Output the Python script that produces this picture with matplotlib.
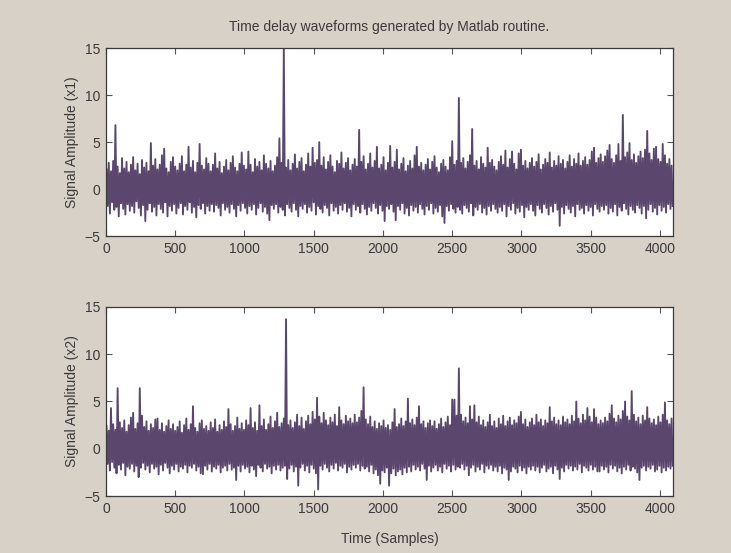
import numpy as np
import matplotlib
matplotlib.use("Agg")
import matplotlib.pyplot as plt

plt.rcParams['font.family'] = ['Liberation Sans', 'DejaVu Sans']

# Each series: per 16-sample bin, the local peak (hi) and trough (lo)
n_samples = 4096
bin_size = 16

x1_hi = [
    2.1, 2.8, 1.9, 3.0, 6.8, 2.4, 1.7, 3.3, 2.2, 2.9, 1.8, 2.6, 3.4, 2.0, 2.7, 1.6,
    3.1, 2.3, 2.8, 1.9, 4.9, 2.5, 3.2, 2.1, 2.6, 3.6, 4.3, 2.2, 1.8, 2.9, 3.4, 2.4,
    2.0, 2.7, 3.5, 1.9, 2.6, 4.5, 2.3, 3.0, 1.8, 2.8, 4.8, 2.5, 2.1, 3.3, 2.7, 1.9,
    2.6, 3.8, 2.2, 2.9, 1.7, 2.4, 3.1, 2.0, 2.8, 3.5, 2.3, 1.9, 2.7, 3.9, 2.5, 2.1,
    4.0, 2.6, 1.8, 3.2, 2.4, 2.9, 2.0, 3.6, 2.7, 2.2, 3.0, 1.9, 2.5, 3.4, 5.4, 2.8,
    15.0, 2.3, 3.1, 2.0, 2.7, 3.7, 2.2, 2.9, 3.3, 1.9, 2.6, 3.8, 2.4, 4.4, 2.8, 3.1,
    5.0, 2.5, 3.4, 2.1, 2.9, 3.6, 2.4, 1.8, 3.0, 2.7, 3.9, 2.2, 2.8, 3.3, 2.0, 2.6,
    3.2, 2.4, 6.3, 2.9, 3.5, 2.1, 2.7, 3.8, 2.3, 3.0, 4.5, 2.2, 2.6, 3.4, 2.0, 2.8,
    4.6, 2.3, 2.9, 4.2, 2.1, 2.7, 3.3, 1.9, 2.5, 3.0, 2.2, 3.6, 4.5, 2.4, 2.8, 2.0,
    2.6, 3.2, 2.1, 2.9, 3.5, 2.3, 1.8, 2.7, 3.1, 2.4, 2.0, 3.4, 5.1, 2.6, 3.0, 9.7,
    2.8, 3.3, 2.2, 2.9, 3.6, 6.4, 2.5, 3.0, 2.1, 3.4, 2.7, 2.3, 4.4, 2.8, 3.1, 2.4,
    2.0, 2.9, 3.5, 2.6, 4.1, 2.3, 3.2, 4.0, 2.7, 2.1, 3.8, 4.2, 2.5, 3.0, 2.2, 2.8,
    3.3, 2.4, 2.9, 3.7, 2.1, 2.6, 3.2, 2.8, 3.9, 2.3, 3.0, 2.5, 3.5, 2.7, 3.1, 2.2,
    2.9, 3.6, 2.4, 3.2, 2.7, 3.8, 2.5, 3.0, 3.4, 2.6, 3.1, 4.0, 4.4, 2.8, 3.3, 3.7,
    2.9, 3.5, 4.1, 4.7, 3.2, 2.8, 3.6, 4.8, 3.0, 7.9, 3.4, 3.9, 4.9, 3.1, 3.7, 2.8,
    3.5, 4.0, 3.3, 4.2, 6.2, 3.8, 3.1, 4.3, 4.5, 3.2, 2.9, 4.8, 3.6, 2.7, 3.2, 2.5,
]
x1_lo = [
    -1.8, -2.6, -1.4, -2.2, -1.9, -2.9, -1.5, -2.1, -2.7, -1.6, -2.3, -1.8, -2.5, -1.3, -2.0, -2.8,
    -1.7, -3.4, -2.2, -1.5, -2.4, -1.9, -2.8, -1.6, -2.1, -2.5, -1.4, -2.9, -1.8, -2.3, -1.6, -2.6,
    -2.0, -1.5, -2.7, -1.8, -2.2, -1.4, -2.5, -1.9, -3.0, -1.7, -2.1, -1.5, -2.6, -1.8, -2.3, -1.6,
    -2.4, -1.7, -2.0, -2.8, -1.5, -2.2, -1.9, -2.5, -1.6, -2.1, -2.9, -1.7, -2.3, -1.5, -2.0, -2.6,
    -1.8, -2.2, -1.6, -2.7, -2.0, -1.5, -2.4, -1.9, -2.6, -3.3, -1.7, -2.1, -1.6, -2.5, -1.9, -2.2,
    -2.8, -1.6, -2.0, -2.4, -1.5, -2.2, -2.9, -1.8, -2.1, -1.6, -2.5, -1.9, -2.3, -1.4, -2.7, -1.8,
    -2.1, -2.5, -1.7, -2.0, -2.8, -1.5, -2.3, -1.9, -2.6, -1.7, -2.2, -1.5, -2.4, -2.0, -2.9, -1.6,
    -2.2, -1.8, -2.5, -1.6, -2.1, -2.7, -1.9, -2.3, -1.5, -2.0, -2.6, -1.7, -2.3, -3.4, -1.8, -2.1,
    -1.6, -2.4, -3.3, -1.8, -2.2, -1.5, -2.6, -2.0, -2.8, -1.7, -2.3, -1.9, -2.5, -1.6, -2.1, -2.7,
    -1.8, -2.2, -1.5, -2.6, -2.0, -2.4, -1.7, -2.9, -3.6, -1.8, -2.3, -1.6, -2.1, -2.5, -1.9, -2.2,
    -2.6, -1.7, -2.0, -2.4, -1.5, -2.8, -1.9, -2.2, -1.6, -2.5, -2.0, -2.7, -1.8, -2.3, -1.6, -2.1,
    -2.5, -1.9, -2.3, -1.6, -2.9, -1.8, -2.2, -1.5, -2.6, -2.0, -2.4, -1.7, -3.0, -1.9, -2.2, -1.6,
    -2.3, -2.8, -1.7, -2.1, -2.5, -1.6, -2.0, -2.7, -1.8, -2.4, -1.5, -2.2, -3.9, -1.9, -2.6, -1.7,
    -2.1, -2.5, -1.8, -2.9, -1.6, -2.2, -2.0, -2.6, -1.7, -2.3, -1.9, -2.8, -1.6, -2.1, -2.4, -1.8,
    -2.2, -1.7, -2.6, -2.0, -2.4, -1.6, -2.8, -1.9, -2.3, -1.5, -2.1, -2.7, -1.8, -2.2, -2.5, -1.7,
    -2.0, -2.6, -1.8, -3.1, -2.2, -1.6, -2.4, -2.0, -2.7, -1.7, -2.3, -1.9, -2.5, -1.6, -2.1, -1.8,
]
x2_hi = [
    2.4, 1.9, 4.3, 2.6, 2.0, 6.4, 2.8, 2.2, 3.0, 1.8, 2.5, 3.3, 3.8, 2.1, 2.7, 6.4,
    3.5, 2.3, 2.9, 1.9, 2.6, 2.2, 3.1, 3.2, 2.0, 2.7, 1.8, 2.4, 3.0, 2.1, 2.6, 1.9,
    2.3, 2.9, 1.7, 2.5, 3.2, 2.0, 2.6, 4.5, 2.2, 1.8, 2.7, 3.0, 2.1, 2.4, 1.9, 2.8,
    2.2, 3.1, 1.8, 2.5, 2.0, 2.9, 2.3, 4.2, 2.6, 1.9, 2.4, 3.3, 2.1, 2.7, 2.0, 3.0,
    2.5, 4.3, 2.2, 2.8, 1.9, 4.6, 2.4, 3.1, 2.0, 2.6, 3.4, 2.2, 2.9, 3.8, 2.3, 2.7,
    3.2, 13.7, 2.5, 3.0, 2.2, 2.8, 3.6, 2.4, 3.3, 2.1, 2.9, 3.5, 2.6, 3.9, 3.1, 5.4,
    3.4, 2.7, 3.8, 3.0, 2.5, 3.3, 2.8, 3.6, 2.4, 4.4, 3.0, 2.6, 3.5, 2.9, 3.2, 2.7,
    3.6, 2.8, 3.3, 4.0, 6.5, 3.1, 2.6, 3.4, 2.3, 2.9, 2.1, 2.7, 2.4, 3.0, 2.2, 2.5,
    2.0, 2.8, 4.2, 2.3, 2.6, 3.2, 2.4, 2.9, 5.3, 2.7, 3.1, 2.5, 3.3, 4.5, 2.6, 2.9,
    2.2, 2.7, 3.0, 2.4, 2.9, 2.1, 2.6, 3.2, 2.3, 2.8, 3.4, 2.5, 5.2, 5.2, 3.5, 8.5,
    3.6, 2.9, 3.3, 2.7, 4.5, 3.1, 4.6, 2.8, 3.4, 2.5, 3.0, 2.3, 2.8, 3.6, 2.4, 2.9,
    2.2, 3.2, 2.6, 3.5, 2.4, 2.9, 3.3, 2.5, 3.0, 2.7, 3.4, 3.9, 2.6, 3.1, 2.3, 2.8,
    3.2, 2.5, 3.6, 2.8, 3.1, 2.4, 3.0, 2.7, 4.4, 2.9, 3.3, 2.6, 3.0, 2.5, 3.4, 2.8,
    3.1, 2.6, 3.5, 2.9, 5.0, 3.2, 2.7, 3.6, 3.0, 4.3, 3.4, 2.8, 4.2, 3.3, 2.6, 3.0,
    2.7, 3.3, 2.9, 3.7, 4.6, 3.2, 2.8, 3.5, 3.1, 4.0, 5.0, 3.4, 3.0, 6.1, 3.6, 2.9,
    3.3, 2.6, 3.5, 3.0, 4.4, 3.2, 2.7, 3.1, 2.5, 3.4, 2.8, 3.6, 4.9, 3.0, 2.6, 3.2,
]
x2_lo = [
    -1.6, -2.3, -1.4, -2.0, -2.6, -1.7, -2.2, -1.5, -2.8, -1.9, -2.1, -1.6, -2.4, -1.8, -3.0, -2.0,
    -1.5, -2.2, -1.8, -2.5, -1.6, -2.1, -1.9, -2.7, -1.7, -2.3, -1.5, -2.0, -2.6, -1.8, -2.2, -1.6,
    -2.4, -1.9, -2.1, -1.7, -2.5, -1.8, -2.0, -1.6, -2.3, -1.9, -2.6, -2.7, -1.8, -2.2, -1.6, -2.4,
    -1.9, -2.1, -1.7, -2.5, -2.0, -1.8, -2.3, -1.6, -2.2, -2.0, -3.3, -1.8, -2.4, -1.7, -2.1, -1.9,
    -2.5, -1.8, -2.2, -2.9, -1.7, -2.0, -2.4, -1.6, -2.1, -1.9, -2.6, -1.8, -2.2, -1.7, -2.3, -2.0,
    -1.8, -3.2, -2.1, -1.7, -2.4, -1.9, -3.9, -2.0, -1.6, -2.3, -1.8, -2.5, -1.7, -2.1, -2.6, -4.3,
    -1.8, -2.2, -1.6, -2.0, -2.4, -1.7, -2.1, -1.5, -2.3, -1.8, -2.0, -1.6, -2.5, -1.9, -2.2, -1.7,
    -2.0, -1.6, -2.3, -1.8, -2.1, -1.9, -2.4, -1.7, -2.6, -2.2, -2.8, -3.7, -2.3, -2.5, -2.0, -3.9,
    -2.6, -2.1, -2.8, -2.4, -2.2, -2.7, -2.0, -2.5, -1.9, -2.4, -1.7, -2.2, -1.9, -2.3, -1.6, -2.1,
    -3.3, -1.8, -2.4, -2.0, -1.7, -2.3, -1.9, -2.5, -1.6, -2.1, -1.8, -2.4, -1.7, -2.2, -1.9, -2.0,
    -1.6, -2.2, -1.8, -2.8, -2.0, -1.7, -2.4, -1.9, -2.2, -1.6, -2.5, -1.8, -2.1, -1.7, -2.3, -1.9,
    -2.4, -1.8, -2.6, -2.0, -2.2, -3.3, -2.4, -1.9, -2.1, -2.5, -1.8, -2.3, -2.0, -2.6, -1.9, -2.2,
    -1.8, -2.3, -1.9, -2.5, -2.0, -1.7, -2.4, -2.1, -1.9, -2.6, -1.8, -2.2, -3.2, -2.0, -2.4, -1.7,
    -2.1, -1.8, -2.3, -1.9, -2.2, -1.6, -2.5, -1.8, -2.0, -2.3, -1.7, -2.2, -1.9, -2.4, -2.4, -1.8,
    -2.2, -1.9, -2.5, -1.7, -2.1, -1.8, -2.4, -2.0, -2.6, -1.9, -2.2, -1.7, -2.3, -1.9, -2.1, -2.5,
    -3.3, -2.0, -1.8, -2.3, -1.9, -2.1, -1.7, -2.4, -2.2, -1.8, -2.5, -2.0, -2.3, -1.9, -2.1, -1.8,
]

title = "Time delay waveforms generated by Matlab routine."
ylabels = ["Signal Amplitude (x1)", "Signal Amplitude (x2)"]
xlabel = "Time (Samples)"
xticks = [0, 500, 1000, 1500, 2000, 2500, 3000, 3500, 4000]
yticks = [-5, 0, 5, 10, 15]

BG = '#d7d1c8'
LINE = '#5b476e'
TXT = '#3a3a3a'


def waveform(hi, lo):
    hi = np.asarray(hi, float)
    lo = np.asarray(lo, float)
    half = bin_size // 2
    x = np.arange(2 * len(hi)) * half + half / 2
    y = np.empty(2 * len(hi))
    y[0::2] = hi
    y[1::2] = lo
    return x, y


fig = plt.figure(figsize=(7.31, 5.53), dpi=100, facecolor=BG)
ax1 = fig.add_axes([0.145, 0.573, 0.776, 0.340])
ax2 = fig.add_axes([0.145, 0.103, 0.776, 0.342])

for ax, hi, lo, yl in [(ax1, x1_hi, x1_lo, ylabels[0]), (ax2, x2_hi, x2_lo, ylabels[1])]:
    x, y = waveform(hi, lo)
    ax.plot(x, y, color=LINE, lw=1.35)
    ax.set_xlim(0, n_samples)
    ax.set_ylim(-5, 15)
    ax.set_xticks(xticks)
    ax.set_yticks(yticks)
    ax.tick_params(direction='in', length=4, width=0.8, top=True, right=True,
                   labelsize=10, colors='#555555', labelcolor=TXT, pad=4)
    ax.set_ylabel(yl, fontsize=10, color=TXT, labelpad=4)
    for s in ax.spines.values():
        s.set_color('#3a3a3a')
        s.set_linewidth(0.9)
    ax.set_facecolor('white')

ax1.set_title(title, fontsize=10, color=TXT, pad=12)
ax2.set_xlabel(xlabel, fontsize=10, color=TXT, labelpad=12)

fig.savefig('out.png', dpi=100, facecolor=BG)
